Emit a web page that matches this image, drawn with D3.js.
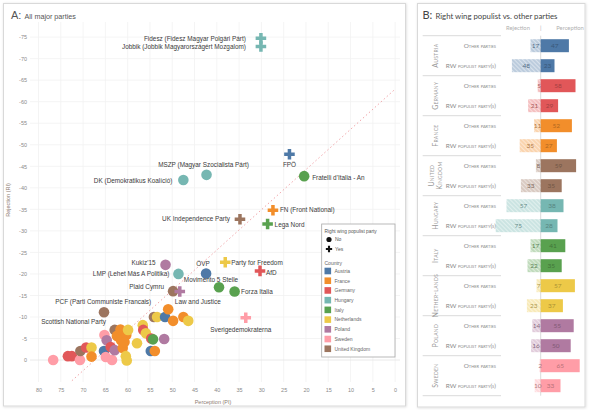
<!DOCTYPE html>
<html><head><meta charset="utf-8">
<script src="https://cdn.jsdelivr.net/npm/d3@7"></script>
<style>
body{margin:0;background:#fff;}
svg{display:block;}
</style></head><body>
<svg id="c" width="591" height="410"></svg>
<script>
// ---------- shared ----------
const countries = ["Austria","France","Germany","Hungary","Italy","Netherlands","Poland","Sweden","United Kingdom"];
const countryColors = ["#4e79a7","#f28e2b","#e15759","#76b7b2","#59a14f","#edc948","#b07aa1","#ff9da7","#9c755f"];

// ---------- Panel A data ----------
const partyNames = [
  "","","","","","","","","","","","","","","","","","","","","","","","","","","","","","","","","","","","","","","","",
  "Fidesz (Fidesz Magyar Polgári Párt)","Jobbik (Jobbik Magyarországért Mozgalom)","FPÖ","Fratelli d'Italia - An",
  "MSZP (Magyar Szocialista Párt)","DK (Demokratikus Koalíció)","UK Independence Party","FN (Front National)","Lega Nord",
  "Kukiz'15","LMP (Lehet Más A Politika)","ÖVP","Movimento 5 Stelle","Forza Italia","Party for Freedom","AfD",
  "Plaid Cymru","Law and Justice","Sverigedemokraterna","Scottish National Party","PCF (Parti Communiste Francais)"
];
const partyCountry = [
  "Sweden","Germany","Germany","Sweden","United Kingdom","Germany","Netherlands","France","Austria","Sweden",
  "Poland","Sweden","Sweden","Germany","Poland","United Kingdom","France","France","France","France",
  "France","Netherlands","Netherlands","Netherlands","Netherlands","Netherlands","Germany","Netherlands","Germany","Italy",
  "Austria","France","Poland","United Kingdom","Netherlands","Austria","France","France","Netherlands","France",
  "Hungary","Hungary","Austria","Italy",
  "Hungary","Hungary","United Kingdom","France","Italy",
  "Poland","Hungary","Austria","Italy","Italy","Netherlands","Germany",
  "United Kingdom","Poland","Sweden","United Kingdom","France"
];
const partyRWP = [
  0,0,0,0,0,0,0,0,0,0,0,0,0,0,0,0,0,0,0,0,0,0,0,0,0,0,0,0,0,0,0,0,0,0,0,0,0,0,0,0,
  1,1,1,0,
  0,0,1,1,1,
  0,0,0,0,0,1,1,
  0,1,1,0,0
];
const perception = [
  76.7,73.4,72.5,70.7,70.6,69.3,68.1,68.1,65.3,65.2,
  64.7,64.9,63.5,63.8,62.9,62.9,62.4,61.6,61.5,61.1,
  60.3,59.9,60.4,60.2,57.9,56.6,56.5,55.9,54.7,54.3,
  54.8,53.9,51.8,54.1,53.4,51.6,49.8,47.5,46.4,60.7,
  30.1,30.1,23.7,20.4,
  42.3,47.5,34.8,27.4,28.6,
  51.5,48.6,42.4,39.5,36.0,38.1,30.3,
  49.8,48.3,33.5,65.3,50.9
];
const rejection = [
  0,-0.9,-0.9,0,-2.1,-2.9,-2.9,-0.8,-2.1,-5.8,
  -4.6,-0.7,0,-3.0,-2.3,-7.0,-5.6,-7.1,-4.6,-2.8,
  -5.8,-7.0,-0.9,0.1,-3.9,-8.1,-7.0,-6.2,-5.0,-4.8,
  -2.1,-2.1,-4.9,-10.0,-10.0,-10.0,-9.1,-10.0,-9.1,-4.2,
  -74.7,-72.8,-47.8,-42.7,
  -43.0,-41.8,-32.7,-34.8,-31.6,
  -22.1,-20.0,-20.1,-16.9,-15.9,-22.7,-20.7,
  -16.0,-15.9,-9.8,-11.1,-11.8
];
const xTicks = [80,75,70,65,60,55,50,45,40,35,30,25,20,15,10,5,0];
const yTicks = [-75,-70,-65,-60,-55,-50,-45,-40,-35,-30,-25,-20,-15,-10,-5,0];
const trendPerception = [72.5, 0];
const trendRejection = [4.8, -62.9];

// label placement (layout, not data)
const labelLayout = {
  "Fidesz (Fidesz Magyar Polgári Párt)":[-15,0,"end"],
  "Jobbik (Jobbik Magyarországért Mozgalom)":[-15,0,"end"],
  "FPÖ":[0,11,"middle"],
  "Fratelli d'Italia - An":[8,2,"start"],
  "MSZP (Magyar Szocialista Párt)":[-3,-10,"middle"],
  "DK (Demokratikus Koalíció)":[-11,1,"end"],
  "UK Independence Party":[-10,0,"end"],
  "FN (Front National)":[7,0,"start"],
  "Lega Nord":[7,0.5,"start"],
  "Kukiz'15":[-10,-2,"end"],
  "LMP (Lehet Más A Politika)":[-9,0,"end"],
  "ÖVP":[-3,-10,"middle"],
  "Movimento 5 Stelle":[-8,-8,"middle"],
  "Forza Italia":[6.5,0,"start"],
  "Party for Freedom":[6,0,"start"],
  "AfD":[6,2,"start"],
  "Plaid Cymru":[-9,-4,"end"],
  "Law and Justice":[18,10,"middle"],
  "Sverigedemokraterna":[-5,12,"middle"],
  "Scottish National Party":[2,10,"end"],
  "PCF (Parti Communiste Francais)":[-17,-7,"end"]
};

// ---------- Panel B data ----------
const bCountries = ["Austria","Germany","France","United Kingdom","Hungary","Italy","Netherlands","Poland","Sweden"];
const bCountryLines = [["Austria"],["Germany"],["France"],["United","Kingdom"],["Hungary"],["Italy"],["Nether-lands"],["Poland"],["Sweden"]];
const rowTypes = ["Other parties","RW populist party(s)"];
const otherRejection  = [17, 5, 11, 8, 57, 17, 7, 14, 2];
const otherPerception = [47, 58, 52, 59, 38, 41, 57, 55, 65];
const rwRejection     = [48, 21, 35, 33, 75, 22, 23, 16, 10];
const rwPerception    = [23, 29, 27, 35, 28, 35, 37, 50, 33];

// ---------- drawing ----------
const svg = d3.select("#c");
const color = d3.scaleOrdinal().domain(countries).range(countryColors);
const defs = svg.append("defs");
const sh = defs.append("filter").attr("id","sh").attr("x","-5%").attr("y","-5%").attr("width","110%").attr("height","110%");
sh.append("feDropShadow").attr("dx",0.5).attr("dy",0.5).attr("stdDeviation",0.8).attr("flood-color","#000").attr("flood-opacity",0.15);

// panel frames
svg.append("rect").attr("x",3.5).attr("y",3.5).attr("width",402).attr("height",402.5)
  .attr("fill","#fff").attr("stroke","#d9d9d9").attr("filter","url(#sh)");
svg.append("rect").attr("x",417.5).attr("y",3.5).attr("width",167.5).attr("height",403.5)
  .attr("fill","#fff").attr("stroke","#d9d9d9").attr("filter","url(#sh)");

// ===== Panel A =====
const fA = "'Liberation Sans', Arial, sans-serif";
const A = svg.append("g");
const x = d3.scaleLinear().domain([81.9, -1.1]).range([30, 400]);
const y = d3.scaleLinear().domain([5.1, -78.5]).range([382, 22]);

// title
const tA = A.append("text").attr("x",11).attr("y",19).attr("font-family",fA).attr("fill","#555");
tA.append("tspan").attr("font-size",11).text("A:");
tA.append("tspan").attr("font-size",7.2).attr("dx",3).text("All major parties");

// grid
A.append("g").selectAll("line").data(xTicks).join("line")
  .attr("x1",d=>x(d)).attr("x2",d=>x(d)).attr("y1",22).attr("y2",382)
  .attr("stroke","#f1f1f1").attr("stroke-width",0.8);
A.append("g").selectAll("line").data(yTicks).join("line")
  .attr("x1",30).attr("x2",400).attr("y1",d=>y(d)).attr("y2",d=>y(d))
  .attr("stroke",d=>d===0?"#e4e4e4":"#f1f1f1").attr("stroke-width",0.8);

// axes (d3 axes, no domain lines)
const xAxis = A.append("g").attr("transform","translate(0,382)")
  .call(d3.axisBottom(x).tickValues(xTicks).tickSize(0).tickPadding(6));
const yAxis = A.append("g").attr("transform","translate(28,0)")
  .call(d3.axisLeft(y).tickValues(yTicks).tickSize(0).tickPadding(1).tickFormat(d=>d===0?"0":String(d)));
[xAxis,yAxis].forEach(g=>{
  g.select(".domain").remove();
  g.selectAll("text").attr("font-family",fA).attr("font-size",5.5).attr("fill","#8a8a8a");
});

// axis titles
A.append("text").attr("transform","translate(10,200) rotate(-90)").attr("text-anchor","middle")
  .attr("font-family",fA).attr("font-size",5.5).attr("fill","#8c7b70").text("Rejection (RI)");
A.append("text").attr("x",213).attr("y",404).attr("text-anchor","middle")
  .attr("font-family",fA).attr("font-size",5.5).attr("fill","#8c7b70").text("Perception (PI)");

// trend line
A.append("line")
  .attr("x1",x(trendPerception[0])).attr("y1",y(trendRejection[0]))
  .attr("x2",x(trendPerception[1])).attr("y2",y(trendRejection[1]))
  .attr("stroke","#e8737a").attr("stroke-width",0.8).attr("stroke-dasharray","1.5,2.5").attr("opacity",0.8);

// points
const parties = partyNames.map((n,i)=>({name:n,country:partyCountry[i],rw:partyRWP[i],p:perception[i],r:rejection[i]}));
const cross = d3.symbol().type(d3.symbolCross).size(62);
A.append("g").selectAll("circle").data(parties.filter(d=>!d.rw)).join("circle")
  .attr("cx",d=>x(d.p)).attr("cy",d=>y(d.r)).attr("r",5.3)
  .attr("fill",d=>color(d.country));
A.append("g").selectAll("path").data(parties.filter(d=>d.rw)).join("path")
  .attr("d",cross).attr("transform",d=>`translate(${x(d.p)},${y(d.r)})`)
  .attr("fill",d=>color(d.country));

// labels
A.append("g").selectAll("text").data(parties.filter(d=>d.name)).join("text")
  .attr("x",d=>x(d.p)+labelLayout[d.name][0])
  .attr("y",d=>y(d.r)+labelLayout[d.name][1])
  .attr("dy","0.35em")
  .attr("text-anchor",d=>labelLayout[d.name][2])
  .attr("font-family",fA).attr("font-size",6.4).attr("fill","#3a3a3a")
  .text(d=>d.name);

// legend
const L = A.append("g");
L.append("rect").attr("x",321.7).attr("y",224).attr("width",73.3).attr("height",133)
  .attr("fill","#fff").attr("stroke","#a8a8a8").attr("stroke-width",0.8);
L.append("text").attr("x",324.5).attr("y",233).attr("font-family",fA).attr("font-size",4.8).attr("fill","#555").text("Right wing populist party");
L.append("circle").attr("cx",329).attr("cy",239.5).attr("r",2.6).attr("fill","#111");
L.append("text").attr("x",335).attr("y",241.3).attr("font-family",fA).attr("font-size",5).attr("fill","#555").text("No");
L.append("path").attr("d",d3.symbol().type(d3.symbolCross).size(22)).attr("transform","translate(329,249)").attr("fill","#111");
L.append("text").attr("x",335).attr("y",250.8).attr("font-family",fA).attr("font-size",5).attr("fill","#555").text("Yes");
L.append("text").attr("x",324.5).attr("y",265).attr("font-family",fA).attr("font-size",5).attr("fill","#666").text("Country");
const li = L.append("g").selectAll("g").data(countries).join("g")
  .attr("transform",(d,i)=>`translate(324.5,${271+i*9.72})`);
li.append("rect").attr("x",0).attr("y",-3.3).attr("width",6.6).attr("height",6.6).attr("fill",d=>color(d));
li.append("text").attr("x",10).attr("y",1.8).attr("font-family",fA).attr("font-size",5).attr("fill","#666").text(d=>d);

// ===== Panel B =====
const fB = "Lato, 'Open Sans', sans-serif";
const B = svg.append("g");
const tB = B.append("text").attr("x",422.5).attr("y",19).attr("font-family",fB).attr("fill","#444");
tB.append("tspan").attr("font-size",11).text("B:");
tB.append("tspan").attr("font-size",7.8).attr("dx",3).text("Right wing populist vs. other parties");

const x0 = 540.7;
const xb = d3.scaleLinear().domain([-80, 80]).range([x0-48, x0+48]);
B.append("text").attr("x",518).attr("y",30).attr("text-anchor","middle").attr("font-family",fB).attr("font-size",5.8).attr("fill","#b0b0b0").text("Rejection");
B.append("text").attr("x",x0).attr("y",30).attr("text-anchor","middle").attr("font-family",fB).attr("font-size",5.8).attr("fill","#b0b0b0").text("|");
B.append("text").attr("x",570).attr("y",30).attr("text-anchor","middle").attr("font-family",fB).attr("font-size",5.8).attr("fill","#b0b0b0").text("Perception");

const rows = [];
bCountries.forEach((c,i)=>{
  rows.push({key:c+"|o",country:c,type:rowTypes[0],rej:otherRejection[i],per:otherPerception[i]});
  rows.push({key:c+"|r",country:c,type:rowTypes[1],rej:rwRejection[i],per:rwPerception[i]});
});
const yb = d3.scaleBand().domain(rows.map(d=>d.key)).range([35.7,395.7]).paddingInner(0.35).paddingOuter(0.175);
const step = yb.step();

// hatch patterns
countries.forEach((c,i)=>{
  const p = defs.append("pattern").attr("id","h"+i).attr("patternUnits","userSpaceOnUse")
    .attr("width",3).attr("height",3).attr("patternTransform","rotate(-45)");
  p.append("rect").attr("width",3).attr("height",3).attr("fill",countryColors[i]).attr("fill-opacity",0.38);
  p.append("line").attr("x1",0).attr("y1",0).attr("x2",0).attr("y2",3).attr("stroke","#fff").attr("stroke-width",1.1).attr("stroke-opacity",0.8);
});

// separators
const seps = d3.range(bCountries.length+1).map(i=>35.7+i*2*step);
B.append("g").selectAll("line").data(seps).join("line")
  .attr("x1",422.7).attr("x2",501).attr("y1",d=>d).attr("y2",d=>d)
  .attr("stroke","#cfcfcf").attr("stroke-width",0.8);
// center line
B.append("line").attr("x1",x0).attr("x2",x0).attr("y1",35.7).attr("y2",395.7).attr("stroke","#d0d0d0").attr("stroke-width",0.8);

// country names
const cn = B.append("g").selectAll("text").data(bCountries).join("text")
  .attr("transform",(d,i)=>`translate(${bCountryLines[i].length>1?431.5:435.5},${35.7+(2*i+1)*step}) rotate(-90)`)
  .attr("text-anchor","middle").attr("font-family",fB).attr("font-size",7).attr("fill","#9a9a9a")
  .style("font-variant","small-caps").attr("letter-spacing",0.3);
cn.each(function(d,i){
  const t = d3.select(this);
  bCountryLines[i].forEach((ln,j)=>t.append("tspan").attr("x",0).attr("dy",j===0?"0.35em":"1.15em").text(ln));
});

// row labels
B.append("g").selectAll("text").data(rows).join("text")
  .attr("x",496).attr("y",d=>yb(d.key)+yb.bandwidth()/2).attr("dy","0.35em")
  .attr("text-anchor","end").attr("font-family",fB).attr("font-size",6.4).attr("fill","#8a8a8a")
  .style("font-variant","small-caps").text(d=>d.type);

// bars
const ci = c=>countries.indexOf(c);
B.append("g").selectAll("rect").data(rows).join("rect")
  .attr("x",d=>xb(-d.rej)).attr("width",d=>x0-xb(-d.rej))
  .attr("y",d=>yb(d.key)).attr("height",yb.bandwidth())
  .attr("fill",d=>`url(#h${ci(d.country)})`);
B.append("g").selectAll("rect").data(rows).join("rect")
  .attr("x",x0).attr("width",d=>xb(d.per)-x0)
  .attr("y",d=>yb(d.key)).attr("height",yb.bandwidth())
  .attr("fill",d=>color(d.country));

// bar numbers
B.append("g").selectAll("text").data(rows).join("text")
  .attr("x",d=>(xb(-d.rej)+x0)/2).attr("y",d=>yb(d.key)+yb.bandwidth()/2).attr("dy","0.35em")
  .attr("text-anchor","middle").attr("font-family",fB).attr("font-size",6.5)
  .attr("fill",d=>d3.color(color(d.country)).darker(1.3).formatHex()).attr("fill-opacity",0.8)
  .text(d=>d.rej);
B.append("g").selectAll("text").data(rows).join("text")
  .attr("x",d=>(xb(d.per)+x0)/2).attr("y",d=>yb(d.key)+yb.bandwidth()/2).attr("dy","0.35em")
  .attr("text-anchor","middle").attr("font-family",fB).attr("font-size",6.5)
  .attr("fill",d=>d3.color(color(d.country)).darker(0.9).formatHex())
  .text(d=>d.per);
</script>
</body></html>
